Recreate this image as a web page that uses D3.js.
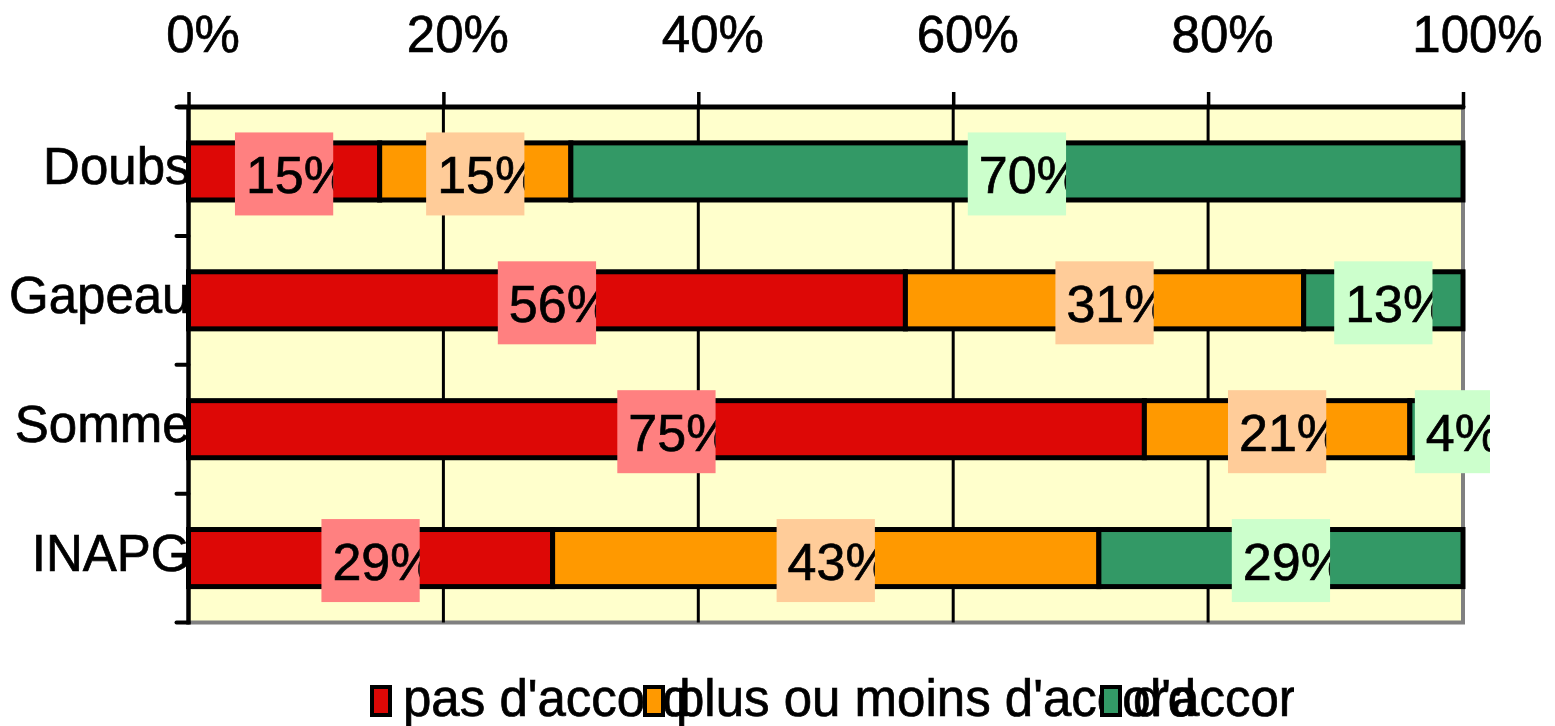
<!DOCTYPE html>
<html><head><meta charset="utf-8">
<script src="https://cdn.jsdelivr.net/npm/d3@7"></script>
<style>body{margin:0;background:#fff;} svg{display:block;} text{font-family:"Liberation Sans",Arial,sans-serif;stroke:#000;stroke-width:0.7px;}</style>
</head><body>
<svg id="c" width="1555" height="726"></svg>
<script>
const categories = ["Doubs","Gapeau","Somme","INAPG"];
const seriesNames = ["pas d'accord","plus ou moins d'accord","d'accord"];
const pasDaccord = [15, 56.25, 75, 28.57];
const plusOuMoins = [15, 31.25, 20.83, 42.86];
const daccord = [70, 12.5, 4.17, 28.57];
const tickValues = [0, 0.2, 0.4, 0.6, 0.8, 1];
const barColors = ["#DD0806", "#FF9900", "#339966"];
const labelColors = ["#FF8080", "#FFCC99", "#CCFFCC"];

const svg = d3.select("#c");
const L = 188.5, R = 1463, T = 107, B = 622.5;
const x = d3.scaleLinear().domain([0,1]).range([L,R]);
const y = d3.scaleBand().domain(categories).range([T,B]).paddingInner(0.557).paddingOuter(0.2785);
const step = y.step();

// plot background
svg.append("rect").attr("x",L).attr("y",T).attr("width",R-L).attr("height",B-T).attr("fill","#FFFFCC");
// gray right & bottom border
svg.append("path").attr("d",`M${R},${T}V${B}H${L}`).attr("fill","none").attr("stroke","#808080").attr("stroke-width",4);

// gridlines
svg.selectAll(".grid").data(tickValues.slice(1,-1)).enter().append("line")
  .attr("x1",d=>x(d)).attr("x2",d=>x(d)).attr("y1",T).attr("y2",B)
  .attr("stroke","#000").attr("stroke-width",3);

// top axis
const xAxis = d3.axisTop(x).tickValues(tickValues).tickSize(15).tickFormat(d3.format(".0%"));
const gx = svg.append("g").attr("transform",`translate(0,${T})`).call(xAxis);
gx.select(".domain").attr("stroke","#000").attr("stroke-width",5).attr("stroke-linecap","round").attr("d",`M${L-10},0H${R}`);
gx.selectAll(".tick line").attr("stroke","#000").attr("stroke-width",3.5);
gx.selectAll(".tick text").attr("font-size",51).attr("fill","#000").attr("font-family","Liberation Sans, Arial")
  .attr("dx",14).attr("y",-55).attr("dy",0);

// left axis
const bounds = categories.map((c,i)=>T + i*step).concat([B]);
svg.append("line").attr("x1",L).attr("x2",L).attr("y1",T).attr("y2",B+2).attr("stroke","#000").attr("stroke-width",4.5);
svg.selectAll(".lt").data(bounds).enter().append("line")
  .attr("x1",L-12).attr("x2",L).attr("y1",d=>d).attr("y2",d=>d).attr("stroke","#000").attr("stroke-width",4).attr("stroke-linecap","round");
svg.selectAll(".cat").data(categories).enter().append("text")
  .attr("x",L+2).attr("y",d=>y(d)+y.bandwidth()/2+13).attr("text-anchor","end")
  .attr("font-size",51).attr("fill","#000").text(d=>d);

// stacked data
const rows = categories.map((c,i)=>({cat:c, v:[pasDaccord[i], plusOuMoins[i], daccord[i]]}));
const segs = [];
rows.forEach(r=>{
  const tot = d3.sum(r.v); let acc = 0;
  r.v.forEach((v,k)=>{ segs.push({cat:r.cat, k, x0:acc/tot, x1:(acc+v)/tot, v}); acc += v; });
});
svg.selectAll(".seg").data(segs).enter().append("rect")
  .attr("x",d=>x(d.x0)).attr("width",d=>x(d.x1)-x(d.x0))
  .attr("y",d=>y(d.cat)).attr("height",y.bandwidth())
  .attr("fill",d=>barColors[d.k]).attr("stroke","#000").attr("stroke-width",5);

// labels
const defs = svg.append("defs");
const nudge = (d)=> (d.cat==="Somme" && d.k===2) ? 16 : 0;
segs.forEach((d,i)=>{
  const cy = y(d.cat)+y.bandwidth()/2 + 2.5;
  const cx = x((d.x0+d.x1)/2);
  const g = svg.append("g");
  const t = g.append("text").attr("font-size",52).attr("fill","#000").text(Math.round(d.v)+"%");
  const tw = t.node().getComputedTextLength();
  const bw = 0.8*tw + 15, bh = 83;
  const bx = cx - bw/2 + nudge(d), by = cy - bh/2;
  defs.append("clipPath").attr("id","cl"+i).append("rect").attr("x",bx).attr("y",by).attr("width",bw).attr("height",bh);
  g.insert("rect","text").attr("x",bx).attr("y",by).attr("width",bw).attr("height",bh).attr("fill",labelColors[d.k]);
  t.attr("x",bx+11).attr("y",cy+19).attr("clip-path",`url(#cl${i})`);
});

// legend
const legX = [370, 643, 1100];
defs.append("clipPath").attr("id","legclip").append("rect").attr("x",0).attr("y",660).attr("width",1294).attr("height",66);
const lg = svg.append("g").attr("clip-path","url(#legclip)");
seriesNames.forEach((s,k)=>{
  lg.append("rect").attr("x",legX[k]+2).attr("y",687).attr("width",18).attr("height",28)
    .attr("fill",barColors[k]).attr("stroke","#000").attr("stroke-width",4);
  lg.append("text").attr("x",legX[k]+33).attr("y",716).attr("font-size",51).attr("fill","#000").text(s);
});
</script>
</body></html>
